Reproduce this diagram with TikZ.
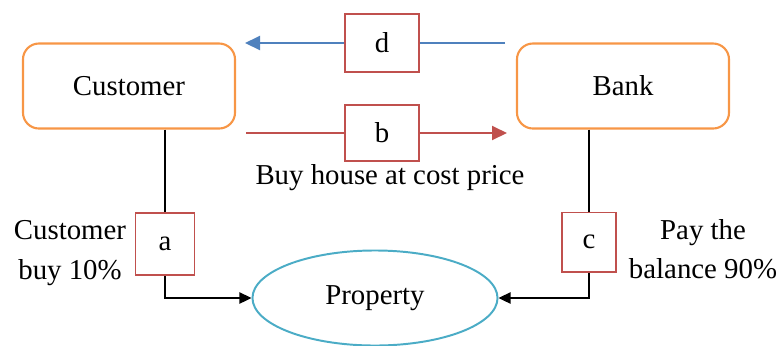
\documentclass[tikz,border=0pt]{standalone}
\usepackage{fontspec}
\setmainfont{Liberation Serif}
\usetikzlibrary{arrows.meta,positioning,shapes.geometric,calc}
\definecolor{boxorange}{RGB}{247,150,70}
\definecolor{tagred}{RGB}{192,80,77}
\definecolor{flowblue}{RGB}{79,129,189}
\definecolor{propcyan}{RGB}{75,172,198}

\begin{document}
\begin{tikzpicture}[
			x = 0.025cm, y = -0.025cm,
			every node/.style = {font=\fontsize{20.5}{28}\selectfont},
			party/.style = {draw=boxorange, line width=1.5pt, rounded corners=0.4cm,
				minimum width=5.3cm, minimum height=2.125cm},
			tag/.style = {draw=tagred, line width=1.4pt, inner sep=0pt},
			flow/.style = {line width=1.4pt, -{Triangle[length=0.375cm,width=0.35cm]}},
			link/.style = {line width=1.2pt, -{Triangle[length=0.3cm,width=0.28cm]}}]
			\useasboundingbox (0,0) rectangle (777,345);

			% parties
			\node[party] (cust) at (129,86) {Customer};
			\node[party] (bank) at (623,86) {Bank};
			\node[draw=propcyan, line width=1.4pt, ellipse, minimum width=6.125cm,
				minimum height=2.375cm] (prop) at (375,298) {Property};

			% labelled tags
			\node[tag, minimum width=1.85cm, minimum height=1.45cm] (d) at (382,43) {d};
			\node[tag, minimum width=1.85cm, minimum height=1.4cm] (b) at (382,133) {b};
			\node[tag, minimum width=1.475cm, minimum height=1.55cm] (a) at (165,244) {a};
			\node[tag, minimum width=1.35cm, minimum height=1.475cm] (c) at (589,242) {c};

			\coordinate (dR) at (505,43);
			\coordinate (dL) at (245,43);
			\coordinate (bL) at (246,133);
			\coordinate (bR) at (507,133);

			% flows between customer and bank
			\draw[flowblue, line width=1.4pt] (dR) -- (d.east);
			\draw[flow, flowblue] (d.west) -- (dL);
			\draw[tagred, line width=1.4pt] (bL) -- (b.west);
			\draw[flow, tagred] (b.east) -- (bR);
			\node (buy) at (390,178) {Buy house at cost price};

			% payments to property
			\draw[line width=1.2pt] (cust.south -| a) -- (a.north);
			\draw[link] (a.south) |- (prop.west);
			\draw[line width=1.2pt] (bank.south -| c) -- (c.north);
			\draw[link] (c.south) |- (prop.east);

			\node[align=center] (buy10) at (70,253) {Customer\\buy 10\%};
			\node[align=center] (pay90) at (703,249) {Pay the\\balance 90\%};
		\end{tikzpicture}
\end{document}
